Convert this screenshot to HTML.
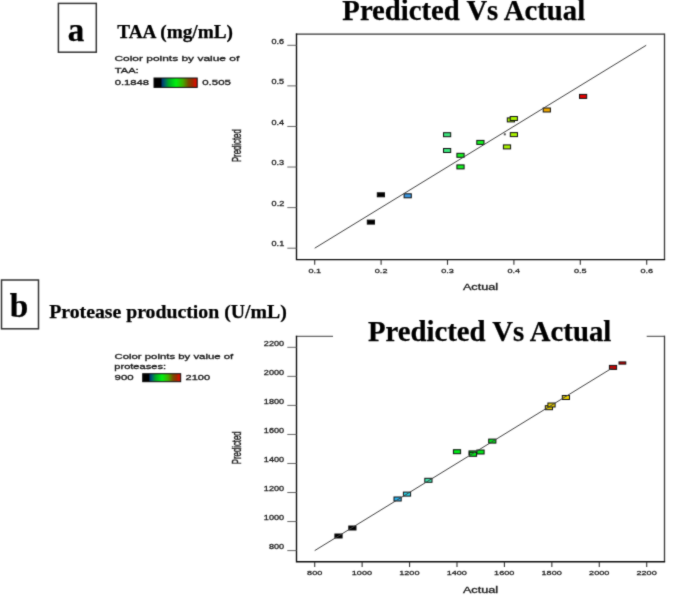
<!DOCTYPE html><html><head><meta charset="utf-8"><style>html,body{margin:0;padding:0;background:#fff;}svg{display:block}</style></head><body>
<svg width="685" height="600" viewBox="0 0 685 600">
<defs><filter id="bl" filterUnits="userSpaceOnUse" x="0" y="0" width="685" height="600" color-interpolation-filters="sRGB"><feConvolveMatrix order="3" kernelMatrix="0.025 0.085 0.025 0.085 0.56 0.085 0.025 0.085 0.025" divisor="1" edgeMode="none"/></filter><linearGradient id="cg" x1="0" x2="1" y1="0" y2="0"><stop offset="0" stop-color="#000"/><stop offset="0.155" stop-color="#000"/><stop offset="0.195" stop-color="#003a70"/><stop offset="0.26" stop-color="#006c62"/><stop offset="0.34" stop-color="#00a828"/><stop offset="0.51" stop-color="#00f010"/><stop offset="0.67" stop-color="#40ac00"/><stop offset="0.8" stop-color="#7a4800"/><stop offset="0.89" stop-color="#9a2c00"/><stop offset="0.96" stop-color="#d81000"/><stop offset="1" stop-color="#c01000"/></linearGradient></defs>
<rect width="685" height="600" fill="#fff"/><g filter="url(#bl)">
<rect x="58.4" y="3.4" width="37.9" height="48.8" fill="none" stroke="#333" stroke-width="1.5"/>
<rect x="1.5" y="280" width="37" height="48.8" fill="none" stroke="#333" stroke-width="1.5"/>
<text transform="translate(67.71,40.80) scale(1,1.000)" font-family="Liberation Serif" font-weight="bold" font-size="33.00" fill="#000" stroke="#000" stroke-width="0.25">a</text>
<text transform="translate(9.87,316.60) scale(1,1.000)" font-family="Liberation Serif" font-weight="bold" font-size="33.30" fill="#000" stroke="#000" stroke-width="0.25">b</text>
<text transform="translate(117.31,38.10) scale(1,1.000)" font-family="Liberation Serif" font-weight="bold" font-size="19.26" fill="#000" stroke="#000" stroke-width="0.25">TAA (mg/mL)</text>
<text transform="translate(49.20,317.70) scale(1,1.000)" font-family="Liberation Serif" font-weight="bold" font-size="19.77" fill="#000" stroke="#000" stroke-width="0.25">Protease production (U/mL)</text>
<text transform="translate(114.40,60.90) scale(1,0.640)" font-family="Liberation Sans" font-weight="normal" font-size="11.97" fill="#1a1a1a" stroke="#1a1a1a" stroke-width="0.45">Color points by value of</text>
<text transform="translate(114.78,73.00) scale(1,0.700)" font-family="Liberation Sans" font-weight="normal" font-size="11.15" fill="#1a1a1a" stroke="#1a1a1a" stroke-width="0.45">TAA:</text>
<text transform="translate(114.75,85.10) scale(1,0.700)" font-family="Liberation Sans" font-weight="normal" font-size="11.24" fill="#1a1a1a" stroke="#1a1a1a" stroke-width="0.45">0.1848</text>
<text transform="translate(202.24,85.20) scale(1,0.700)" font-family="Liberation Sans" font-weight="normal" font-size="11.45" fill="#1a1a1a" stroke="#1a1a1a" stroke-width="0.45">0.505</text>
<rect x="154" y="78" width="43.2" height="9.4" fill="url(#cg)" stroke="#111" stroke-width="1"/>
<text transform="translate(114.43,359.30) scale(1,0.640)" font-family="Liberation Sans" font-weight="normal" font-size="11.38" fill="#1a1a1a" stroke="#1a1a1a" stroke-width="0.45">Color points by value of</text>
<text transform="translate(114.28,369.20) scale(1,0.640)" font-family="Liberation Sans" font-weight="normal" font-size="11.09" fill="#1a1a1a" stroke="#1a1a1a" stroke-width="0.45">proteases:</text>
<text transform="translate(114.59,380.10) scale(1,0.700)" font-family="Liberation Sans" font-weight="normal" font-size="11.42" fill="#1a1a1a" stroke="#1a1a1a" stroke-width="0.45">900</text>
<text transform="translate(185.55,380.40) scale(1,0.700)" font-family="Liberation Sans" font-weight="normal" font-size="11.03" fill="#1a1a1a" stroke="#1a1a1a" stroke-width="0.45">2100</text>
<rect x="142.7" y="373.7" width="38" height="8" fill="url(#cg)" stroke="#111" stroke-width="1"/>
<path d="M295.85 34.2H664.5" fill="none" stroke="#333" stroke-width="1.3"/>
<path d="M664.5 33.550000000000004V259.6" fill="none" stroke="#383838" stroke-width="1.3"/>
<path d="M296.5 33.550000000000004V259.6H665.15" fill="none" stroke="#0a0a0a" stroke-width="1.35"/>
<line x1="287.3" x2="296.5" y1="248.2" y2="248.2" stroke="#666" stroke-width="1"/>
<text transform="translate(271.56,246.40) scale(1,0.700)" font-family="Liberation Sans" font-weight="normal" font-size="9.10" fill="#222" stroke="#222" stroke-width="0.38">0.1</text>
<line x1="287.3" x2="296.5" y1="207.62" y2="207.62" stroke="#666" stroke-width="1"/>
<text transform="translate(271.61,205.82) scale(1,0.700)" font-family="Liberation Sans" font-weight="normal" font-size="9.10" fill="#222" stroke="#222" stroke-width="0.38">0.2</text>
<line x1="287.3" x2="296.5" y1="167.04" y2="167.04" stroke="#666" stroke-width="1"/>
<text transform="translate(271.52,165.24) scale(1,0.700)" font-family="Liberation Sans" font-weight="normal" font-size="9.10" fill="#222" stroke="#222" stroke-width="0.38">0.3</text>
<line x1="287.3" x2="296.5" y1="126.46" y2="126.46" stroke="#666" stroke-width="1"/>
<text transform="translate(271.42,124.66) scale(1,0.700)" font-family="Liberation Sans" font-weight="normal" font-size="9.10" fill="#222" stroke="#222" stroke-width="0.38">0.4</text>
<line x1="287.3" x2="296.5" y1="85.88" y2="85.88" stroke="#666" stroke-width="1"/>
<text transform="translate(271.52,84.08) scale(1,0.700)" font-family="Liberation Sans" font-weight="normal" font-size="9.10" fill="#222" stroke="#222" stroke-width="0.38">0.5</text>
<line x1="287.3" x2="296.5" y1="45.3" y2="45.3" stroke="#666" stroke-width="1"/>
<text transform="translate(271.52,43.50) scale(1,0.700)" font-family="Liberation Sans" font-weight="normal" font-size="9.10" fill="#222" stroke="#222" stroke-width="0.38">0.6</text>
<line x1="314.7" x2="314.7" y1="259.6" y2="264.8" stroke="#333" stroke-width="1.1"/>
<text transform="translate(308.40,272.60) scale(1,0.660)" font-family="Liberation Sans" font-weight="normal" font-size="9.10" fill="#222" stroke="#222" stroke-width="0.38">0.1</text>
<line x1="381.1" x2="381.1" y1="259.6" y2="264.8" stroke="#333" stroke-width="1.1"/>
<text transform="translate(374.82,272.60) scale(1,0.660)" font-family="Liberation Sans" font-weight="normal" font-size="9.10" fill="#222" stroke="#222" stroke-width="0.38">0.2</text>
<line x1="447.5" x2="447.5" y1="259.6" y2="264.8" stroke="#333" stroke-width="1.1"/>
<text transform="translate(441.18,272.60) scale(1,0.660)" font-family="Liberation Sans" font-weight="normal" font-size="9.10" fill="#222" stroke="#222" stroke-width="0.38">0.3</text>
<line x1="513.9" x2="513.9" y1="259.6" y2="264.8" stroke="#333" stroke-width="1.1"/>
<text transform="translate(507.53,272.60) scale(1,0.660)" font-family="Liberation Sans" font-weight="normal" font-size="9.10" fill="#222" stroke="#222" stroke-width="0.38">0.4</text>
<line x1="580.3" x2="580.3" y1="259.6" y2="264.8" stroke="#333" stroke-width="1.1"/>
<text transform="translate(573.98,272.60) scale(1,0.660)" font-family="Liberation Sans" font-weight="normal" font-size="9.10" fill="#222" stroke="#222" stroke-width="0.38">0.5</text>
<line x1="646.7" x2="646.7" y1="259.6" y2="264.8" stroke="#333" stroke-width="1.1"/>
<text transform="translate(640.38,272.60) scale(1,0.660)" font-family="Liberation Sans" font-weight="normal" font-size="9.10" fill="#222" stroke="#222" stroke-width="0.38">0.6</text>
<text transform="translate(462.90,290.40) scale(1,0.650)" font-family="Liberation Sans" font-weight="normal" font-size="12.66" fill="#1a1a1a" stroke="#1a1a1a" stroke-width="0.45">Actual</text>
<text transform="translate(241.00,162.12) rotate(-90) scale(0.616,1)" font-family="Liberation Sans" font-size="12.66" fill="#222" stroke="#222" stroke-width="0.45">Predicted</text>
<rect x="367.3" y="220.1" width="7.2" height="4" fill="#000" stroke="#111" stroke-width="1"/>
<rect x="377.3" y="192.8" width="7.2" height="4" fill="#000" stroke="#111" stroke-width="1"/>
<rect x="404.1" y="193.8" width="7.2" height="4" fill="#3a96e0" stroke="#111" stroke-width="1"/>
<rect x="443.5" y="132.7" width="7.2" height="4" fill="#3ce47c" stroke="#111" stroke-width="1"/>
<rect x="443.5" y="148.5" width="7.2" height="4" fill="#3ce47c" stroke="#111" stroke-width="1"/>
<rect x="456.9" y="153.3" width="7.2" height="4" fill="#14f020" stroke="#111" stroke-width="1"/>
<rect x="456.9" y="164.9" width="7.2" height="4" fill="#14f020" stroke="#111" stroke-width="1"/>
<rect x="476.8" y="140.4" width="7.2" height="4" fill="#14f020" stroke="#111" stroke-width="1"/>
<rect x="503.4" y="144.9" width="7.2" height="4" fill="#a8f000" stroke="#111" stroke-width="1"/>
<rect x="510.3" y="132.6" width="7.2" height="4" fill="#a8f000" stroke="#111" stroke-width="1"/>
<rect x="507.3" y="117.9" width="7.2" height="4" fill="#a8f000" stroke="#111" stroke-width="1"/>
<rect x="510.2" y="116.5" width="7.2" height="4" fill="#a8f000" stroke="#111" stroke-width="1"/>
<rect x="543.2" y="108.0" width="7.2" height="4" fill="#f0a800" stroke="#111" stroke-width="1"/>
<rect x="579.5" y="94.4" width="7.2" height="4" fill="#e00000" stroke="#111" stroke-width="1"/>
<line x1="314.7" y1="248.2" x2="646.2" y2="45.3" stroke="#404040" stroke-width="1.0"/>
<rect x="503.8" y="133.3" width="2" height="2" fill="#555"/>
<path d="M295.85 336.3H664.5" fill="none" stroke="#666" stroke-width="1.3"/>
<path d="M664.5 335.65000000000003V561.7" fill="none" stroke="#383838" stroke-width="1.3"/>
<path d="M296.5 335.65000000000003V561.7H665.15" fill="none" stroke="#0a0a0a" stroke-width="1.35"/>
<rect x="333.0" y="332.3" width="313.70000000000005" height="8" fill="#fff"/>
<line x1="287.3" x2="296.5" y1="550.6" y2="550.6" stroke="#666" stroke-width="1"/>
<text transform="translate(268.97,548.80) scale(1,0.700)" font-family="Liberation Sans" font-weight="normal" font-size="9.10" fill="#222" stroke="#222" stroke-width="0.38">800</text>
<line x1="287.3" x2="296.5" y1="521.56" y2="521.56" stroke="#666" stroke-width="1"/>
<text transform="translate(263.87,519.76) scale(1,0.700)" font-family="Liberation Sans" font-weight="normal" font-size="9.10" fill="#222" stroke="#222" stroke-width="0.38">1000</text>
<line x1="287.3" x2="296.5" y1="492.52" y2="492.52" stroke="#666" stroke-width="1"/>
<text transform="translate(263.87,490.72) scale(1,0.700)" font-family="Liberation Sans" font-weight="normal" font-size="9.10" fill="#222" stroke="#222" stroke-width="0.38">1200</text>
<line x1="287.3" x2="296.5" y1="463.48" y2="463.48" stroke="#666" stroke-width="1"/>
<text transform="translate(263.87,461.68) scale(1,0.700)" font-family="Liberation Sans" font-weight="normal" font-size="9.10" fill="#222" stroke="#222" stroke-width="0.38">1400</text>
<line x1="287.3" x2="296.5" y1="434.44" y2="434.44" stroke="#666" stroke-width="1"/>
<text transform="translate(263.87,432.64) scale(1,0.700)" font-family="Liberation Sans" font-weight="normal" font-size="9.10" fill="#222" stroke="#222" stroke-width="0.38">1600</text>
<line x1="287.3" x2="296.5" y1="405.4" y2="405.4" stroke="#666" stroke-width="1"/>
<text transform="translate(263.87,403.60) scale(1,0.700)" font-family="Liberation Sans" font-weight="normal" font-size="9.10" fill="#222" stroke="#222" stroke-width="0.38">1800</text>
<line x1="287.3" x2="296.5" y1="376.36" y2="376.36" stroke="#666" stroke-width="1"/>
<text transform="translate(263.87,374.56) scale(1,0.700)" font-family="Liberation Sans" font-weight="normal" font-size="9.10" fill="#222" stroke="#222" stroke-width="0.38">2000</text>
<line x1="287.3" x2="296.5" y1="347.32" y2="347.32" stroke="#666" stroke-width="1"/>
<text transform="translate(263.87,345.52) scale(1,0.700)" font-family="Liberation Sans" font-weight="normal" font-size="9.10" fill="#222" stroke="#222" stroke-width="0.38">2200</text>
<line x1="314.7" x2="314.7" y1="561.7" y2="566.9000000000001" stroke="#333" stroke-width="1.1"/>
<text transform="translate(307.08,574.70) scale(1,0.660)" font-family="Liberation Sans" font-weight="normal" font-size="9.10" fill="#222" stroke="#222" stroke-width="0.38">800</text>
<line x1="362.13" x2="362.13" y1="561.7" y2="566.9000000000001" stroke="#333" stroke-width="1.1"/>
<text transform="translate(351.82,574.70) scale(1,0.660)" font-family="Liberation Sans" font-weight="normal" font-size="9.10" fill="#222" stroke="#222" stroke-width="0.38">1000</text>
<line x1="409.56" x2="409.56" y1="561.7" y2="566.9000000000001" stroke="#333" stroke-width="1.1"/>
<text transform="translate(399.25,574.70) scale(1,0.660)" font-family="Liberation Sans" font-weight="normal" font-size="9.10" fill="#222" stroke="#222" stroke-width="0.38">1200</text>
<line x1="456.99" x2="456.99" y1="561.7" y2="566.9000000000001" stroke="#333" stroke-width="1.1"/>
<text transform="translate(446.68,574.70) scale(1,0.660)" font-family="Liberation Sans" font-weight="normal" font-size="9.10" fill="#222" stroke="#222" stroke-width="0.38">1400</text>
<line x1="504.42" x2="504.42" y1="561.7" y2="566.9000000000001" stroke="#333" stroke-width="1.1"/>
<text transform="translate(494.11,574.70) scale(1,0.660)" font-family="Liberation Sans" font-weight="normal" font-size="9.10" fill="#222" stroke="#222" stroke-width="0.38">1600</text>
<line x1="551.85" x2="551.85" y1="561.7" y2="566.9000000000001" stroke="#333" stroke-width="1.1"/>
<text transform="translate(541.54,574.70) scale(1,0.660)" font-family="Liberation Sans" font-weight="normal" font-size="9.10" fill="#222" stroke="#222" stroke-width="0.38">1800</text>
<line x1="599.28" x2="599.28" y1="561.7" y2="566.9000000000001" stroke="#333" stroke-width="1.1"/>
<text transform="translate(589.09,574.70) scale(1,0.660)" font-family="Liberation Sans" font-weight="normal" font-size="9.10" fill="#222" stroke="#222" stroke-width="0.38">2000</text>
<line x1="646.71" x2="646.71" y1="561.7" y2="566.9000000000001" stroke="#333" stroke-width="1.1"/>
<text transform="translate(636.52,574.70) scale(1,0.660)" font-family="Liberation Sans" font-weight="normal" font-size="9.10" fill="#222" stroke="#222" stroke-width="0.38">2200</text>
<text transform="translate(462.90,592.50) scale(1,0.650)" font-family="Liberation Sans" font-weight="normal" font-size="12.66" fill="#1a1a1a" stroke="#1a1a1a" stroke-width="0.45">Actual</text>
<text transform="translate(241.00,464.22) rotate(-90) scale(0.616,1)" font-family="Liberation Sans" font-size="12.66" fill="#222" stroke="#222" stroke-width="0.45">Predicted</text>
<rect x="334.9" y="534.0" width="7.2" height="4" fill="#000" stroke="#111" stroke-width="1"/>
<rect x="348.8" y="526.0" width="7.2" height="4" fill="#000" stroke="#111" stroke-width="1"/>
<rect x="394.0" y="497.0" width="7.2" height="4" fill="#28b4f0" stroke="#111" stroke-width="1"/>
<rect x="403.4" y="492.1" width="7.2" height="4" fill="#28d4e8" stroke="#111" stroke-width="1"/>
<rect x="424.8" y="478.3" width="7.2" height="4" fill="#40e4b0" stroke="#111" stroke-width="1"/>
<rect x="453.4" y="449.7" width="7.2" height="4" fill="#00e818" stroke="#111" stroke-width="1"/>
<rect x="469.0" y="450.9" width="7.2" height="4" fill="#00e818" stroke="#111" stroke-width="1"/>
<rect x="469.4" y="452.3" width="7.2" height="4" fill="#00e818" stroke="#111" stroke-width="1"/>
<rect x="476.9" y="450.0" width="7.2" height="4" fill="#00e818" stroke="#111" stroke-width="1"/>
<rect x="488.7" y="439.1" width="7.2" height="4" fill="#00e818" stroke="#111" stroke-width="1"/>
<rect x="545.3" y="405.7" width="7.2" height="4" fill="#e8d000" stroke="#111" stroke-width="1"/>
<rect x="547.9" y="403.0" width="7.2" height="4" fill="#e8d000" stroke="#111" stroke-width="1"/>
<rect x="562.3" y="395.5" width="7.2" height="4" fill="#e8d000" stroke="#111" stroke-width="1"/>
<rect x="609.4" y="365.4" width="7.2" height="4" fill="#c80000" stroke="#111" stroke-width="1"/>
<line x1="314.7" y1="550.6" x2="613.5" y2="367.2" stroke="#404040" stroke-width="1.0"/>
<rect x="619" y="361.9" width="6.8" height="2.2" fill="#d00000" stroke="#111" stroke-width="1"/>
<text transform="translate(342.37,19.70) scale(1,1.000)" font-family="Liberation Serif" font-weight="bold" font-size="28.70" fill="#000" stroke="#000" stroke-width="0.25">Predicted Vs Actual</text>
<text transform="translate(367.97,340.70) scale(1,1.000)" font-family="Liberation Serif" font-weight="bold" font-size="28.75" fill="#000" stroke="#000" stroke-width="0.25">Predicted Vs Actual</text>
</g></svg></body></html>
